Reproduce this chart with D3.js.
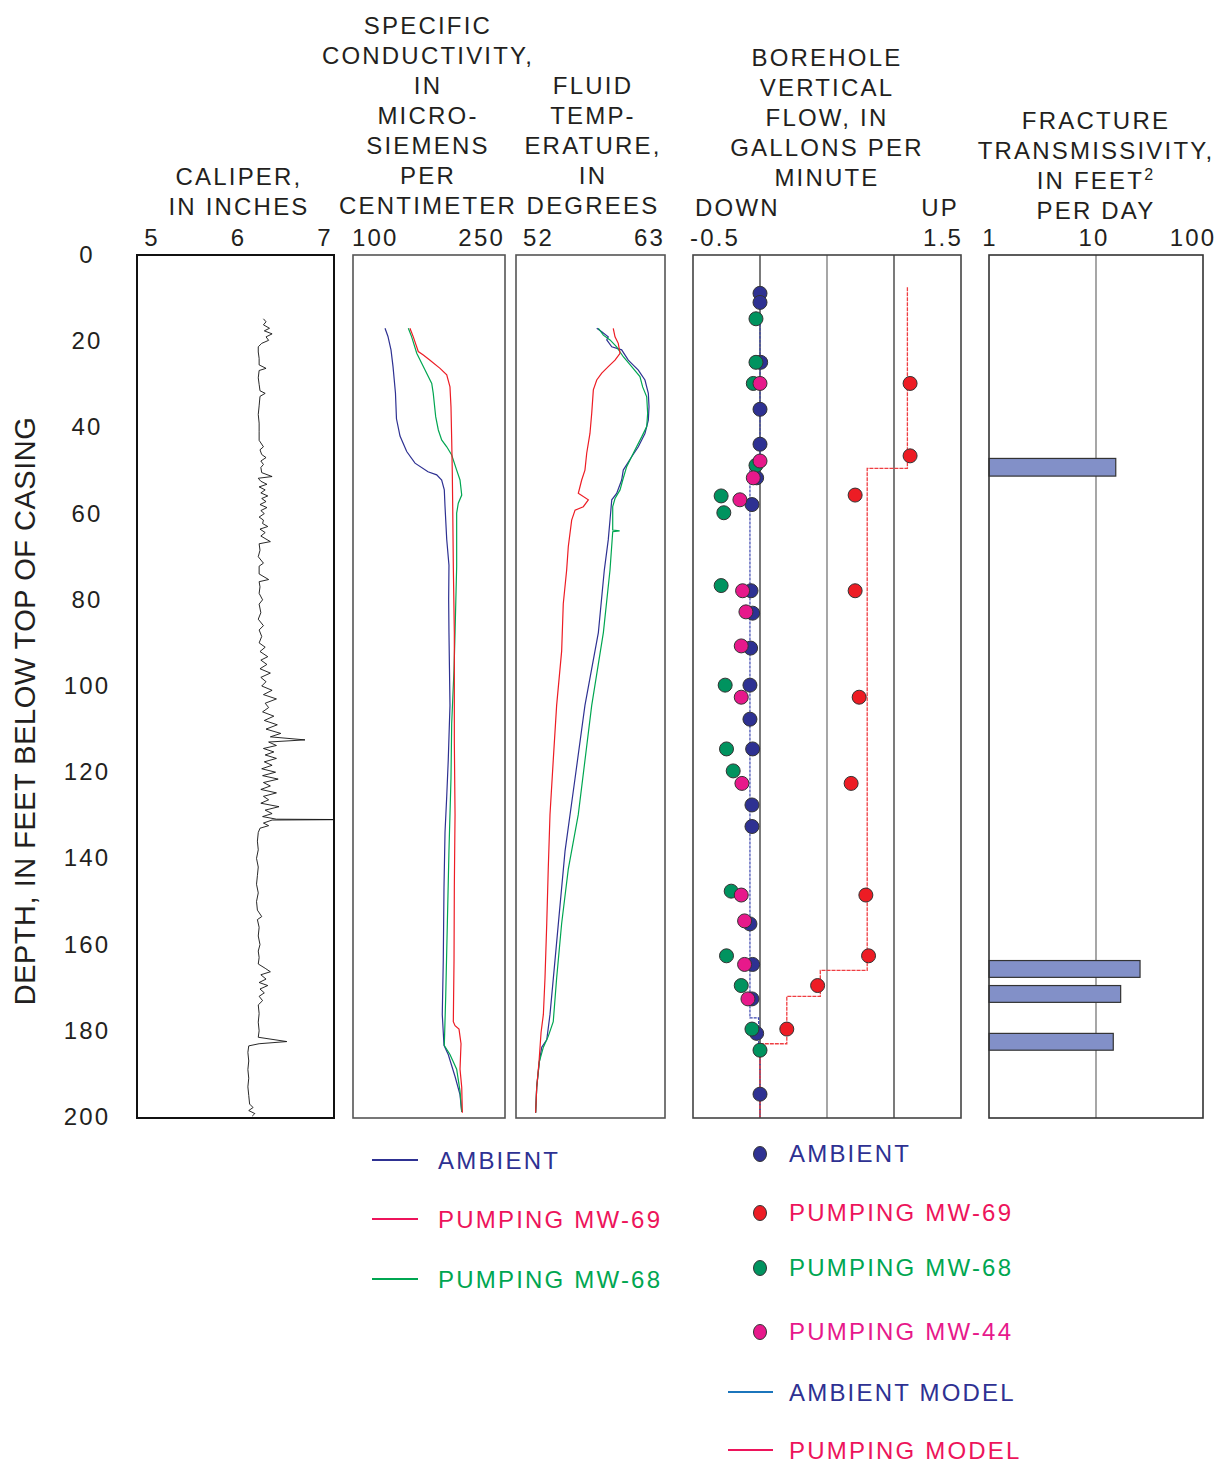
<!DOCTYPE html>
<html>
<head>
<meta charset="utf-8">
<script src="https://d3js.org/d3.v7.min.js"></script>
<style>
body { margin: 0; background: #fff; }
text { font-family: "Liberation Sans", Arial, sans-serif; fill: #231f20; font-size: 24px; letter-spacing: 2.2px; }
</style>
</head>
<body>
<div id="chart"></div>
<script>
// ---- data ----
var depthTicks = [0, 20, 40, 60, 80, 100, 120, 140, 160, 180, 200];
var caliperTicks = [5, 6, 7];
var condTicks = [100, 250];
var tempTicks = [52, 63];
var flowTicks = [-0.5, 1.5];
var transTicks = [1, 10, 100];

// caliper, [depth ft, inches]
var caliper = [[14.8,6.30],[15.5,6.33],[16.2,6.30],[17.0,6.37],[17.6,6.31],[18.3,6.40],[19.0,6.33],[19.8,6.36],[20.5,6.28],
  [21.3,6.24],[22.5,6.24],[24.0,6.25],[25.5,6.25],[26.3,6.33],[26.8,6.25],[28.5,6.24],[30.0,6.25],[31.5,6.26],[32.1,6.32],
  [32.8,6.26],[35.0,6.25],[37.0,6.24],[39.0,6.25],[41.0,6.25],[43.0,6.25],[44.5,6.30],[45.2,6.26],[46.3,6.28],[47.0,6.33],
  [47.8,6.27],[48.6,6.30],[49.3,6.27],[50.5,6.28],[51.4,6.40],[51.8,6.24],[52.5,6.27],[53.2,6.34],[53.8,6.25],[54.5,6.32],
  [55.2,6.27],[55.9,6.35],[56.5,6.28],[57.2,6.33],[57.9,6.26],[58.6,6.34],[59.3,6.27],[60.0,6.31],[60.8,6.25],[61.5,6.30],
  [62.3,6.29],[63.0,6.35],[63.6,6.26],[64.4,6.32],[65.2,6.27],[66.5,6.38],[67.0,6.25],[68.5,6.26],[70.0,6.24],[71.5,6.30],
  [72.2,6.25],[74.0,6.25],[75.3,6.36],[75.8,6.25],[77.0,6.26],[78.5,6.25],[80.0,6.29],[81.0,6.25],[83.0,6.27],[84.5,6.24],
  [86.0,6.30],[87.0,6.25],[88.5,6.28],[90.0,6.25],[91.0,6.32],[92.0,6.26],[93.2,6.35],[94.0,6.27],[95.0,6.34],[96.0,6.26],
  [97.0,6.38],[98.0,6.27],[99.0,6.33],[100.0,6.28],[101.0,6.40],[102.0,6.30],[103.0,6.45],[104.0,6.32],[105.0,6.36],
  [106.0,6.29],[107.0,6.42],[108.0,6.31],[109.0,6.46],[110.0,6.33],[111.0,6.50],[111.8,6.38],[112.5,6.78],[113.0,6.36],
  [113.8,6.45],[114.5,6.30],[115.3,6.42],[116.0,6.32],[116.8,6.45],[117.6,6.31],[118.4,6.40],[119.2,6.28],[120.0,6.44],
  [120.8,6.29],[121.6,6.47],[122.4,6.30],[123.2,6.38],[124.0,6.27],[124.8,6.45],[125.6,6.30],[126.4,6.36],[127.2,6.27],
  [128.0,6.48],[128.8,6.32],[129.6,6.40],[130.3,6.29],[130.9,6.45],[131.0,7.30],[131.1,6.40],[131.8,6.30],[132.4,6.36],
  [133.0,6.26],[134.0,6.24],[136.0,6.23],[138.0,6.24],[140.0,6.22],[142.0,6.24],[144.0,6.23],[146.0,6.22],[148.0,6.24],
  [150.0,6.22],[152.0,6.23],[153.5,6.28],[154.2,6.23],[156.0,6.25],[158.0,6.24],[160.0,6.26],[161.5,6.24],[163.0,6.25],
  [164.5,6.24],[165.5,6.32],[166.3,6.38],[167.0,6.27],[168.0,6.33],[168.8,6.25],[169.5,6.35],[170.3,6.26],[171.2,6.31],
  [172.0,6.25],[173.0,6.29],[174.0,6.24],[176.0,6.25],[178.0,6.24],[180.0,6.25],[181.5,6.24],[182.5,6.57],[183.0,6.25],
  [183.5,6.13],[185.0,6.12],[187.0,6.13],[189.0,6.12],[191.0,6.13],[193.0,6.12],[195.0,6.13],[197.0,6.14],[197.8,6.18],
  [198.5,6.13],[199.2,6.20],[199.8,6.17]];

// specific conductivity, [depth ft, microsiemens/cm]
var condAmbient = [[17.0,131.6],[18.9,134.5],[22.0,137.5],[25.9,139.5],[32.0,141.9],[38.0,142.9],[42.0,146.4],[45.6,153.0],
  [48.3,161.2],[50.3,174.0],[51.0,182.6],[52.2,187.5],[54.5,190.1],[58.3,190.8],[66.0,192.5],[72.0,194.7],[80.0,194.4],
  [87.6,194.7],[96.0,195.2],[104.5,195.7],[117.2,194.0],[125.6,192.5],[134.0,190.8],[146.7,189.8],[163.6,189.1],
  [176.2,188.1],[183.4,189.8],[185.5,194.0],[190.6,200.7],[194.8,205.6],[198.8,207.3]];
var condMW69 = [[17.0,156.2],[19.0,159.5],[22.4,164.4],[23.2,169.4],[24.4,176.0],[26.3,185.9],[27.8,192.5],[30.6,195.7],
  [35.2,196.7],[42.9,197.4],[50.7,198.0],[58.4,198.4],[72.3,199.0],[87.6,200.0],[112.9,200.0],[129.8,200.7],[146.7,200.0],
  [163.6,199.7],[177.9,199.0],[178.8,200.7],[179.6,204.6],[183.0,206.6],[188.9,205.6],[193.1,207.3],[199.0,207.9]];
var condMW68 = [[17.0,154.6],[19.0,157.9],[22.8,162.9],[26.7,171.1],[29.8,177.7],[32.1,179.2],[37.5,181.6],[40.6,184.2],
  [42.9,187.5],[44.5,192.5],[46.4,197.4],[49.9,202.3],[52.2,205.6],[55.7,207.3],[57.6,203.9],[59.9,202.3],[72.3,202.3],
  [87.6,200.7],[96.1,199.7],[108.7,197.4],[121.4,196.7],[138.3,194.7],[155.1,193.1],[172.0,191.5],[183.4,190.1],
  [185.5,195.7],[188.9,202.3],[194.0,205.6],[198.8,207.3]];

// fluid temperature, [depth ft, degrees]
var tempAmbient = [[17.0,57.96],[17.8,58.33],[19.0,58.81],[19.7,58.70],[21.3,59.07],[22.0,59.80],[24.4,60.29],[26.7,61.03],
  [29.0,61.52],[32.1,61.77],[35.2,61.82],[38.3,61.77],[41.4,61.52],[44.5,61.03],[46.8,60.54],[49.9,59.92],[52.2,59.80],
  [55.3,59.43],[56.8,59.07],[61.5,58.94],[66.1,58.81],[73.1,58.52],[87.6,58.08],[104.5,57.09],[121.4,56.36],[138.3,55.62],
  [150.9,55.25],[163.6,54.88],[176.2,54.51],[182.1,54.27],[183.8,53.90],[187.2,53.72],[193.0,53.53],[199.0,53.45]];
var tempMW69 = [[17.0,59.18],[19.0,59.31],[20.5,59.55],[22.8,59.68],[24.4,59.31],[25.9,58.81],[27.4,58.33],[29.0,57.96],
  [31.3,57.71],[36.7,57.59],[41.4,57.46],[46.0,57.22],[49.9,57.09],[52.2,56.85],[55.3,56.60],[56.8,57.34],[58.4,56.97],
  [59.2,56.36],[61.5,56.11],[67.7,55.86],[73.1,55.74],[80.9,55.49],[91.9,55.37],[104.5,55.00],[117.2,54.75],[129.8,54.51],
  [142.5,54.38],[155.1,54.27],[167.8,54.14],[176.2,54.02],[180.4,53.85],[187.2,53.70],[193.1,53.53],[199.0,53.45]];
var tempMW68 = [[17.0,58.08],[18.6,58.45],[19.7,58.94],[21.3,59.43],[23.6,59.92],[25.9,60.54],[28.2,61.15],[30.6,61.35],
  [32.9,61.65],[36.7,61.72],[39.8,61.65],[42.2,61.28],[45.2,60.79],[49.1,60.17],[52.2,59.88],[54.5,59.68],[56.5,59.31],
  [58.4,59.14],[63.8,59.14],[64.0,59.65],[64.2,59.14],[73.1,58.94],[87.6,58.45],[104.5,57.59],[129.8,56.60],[142.5,55.86],
  [155.1,55.37],[167.8,55.00],[177.9,54.75],[181.3,54.38],[183.8,54.02],[187.2,53.72],[193.0,53.53],[199.0,53.45]];

// borehole vertical flow, [depth ft, gallons per minute]
var flowAmbient = [[8.9,0],[11.0,0],[24.9,0.005],[35.8,0],[43.9,0],[51.7,-0.025],[57.9,-0.06],[77.9,-0.067],[83.1,-0.055],
  [91.2,-0.07],[99.8,-0.075],[107.7,-0.075],[114.6,-0.055],[127.6,-0.06],[132.6,-0.06],[155.2,-0.075],[164.6,-0.055],
  [172.6,-0.06],[180.6,-0.025],[194.7,0]];
var flowMW68 = [[14.8,-0.03],[24.9,-0.03],[29.8,-0.05],[48.8,-0.03],[55.9,-0.29],[59.8,-0.27],[76.7,-0.29],[99.8,-0.26],
  [114.6,-0.25],[119.7,-0.20],[147.6,-0.215],[162.6,-0.25],[169.5,-0.14],[179.6,-0.06],[184.5,0]];
var flowMW44 = [[29.8,0],[47.8,0],[51.7,-0.05],[56.8,-0.15],[77.9,-0.13],[82.8,-0.105],[90.7,-0.14],[102.6,-0.14],
  [122.6,-0.135],[148.5,-0.14],[154.5,-0.115],[164.6,-0.115],[172.6,-0.09]];
var flowMW69 = [[29.8,1.12],[46.6,1.12],[55.7,0.71],[77.9,0.71],[102.6,0.74],[122.6,0.68],[148.5,0.79],[162.6,0.81],
  [169.5,0.43],[179.6,0.20]];

// flow models: interval depths and flow within each interval
var ambientModelDepths = [15, 49.5, 177, 183, 200];
var ambientModelFlows = [0, -0.075, -0.01, 0];
var pumpingModelDepths = [7.5, 49.5, 166, 172, 183, 200];
var pumpingModelFlows = [1.10, 0.80, 0.45, 0.20, 0];

// fracture transmissivity
var fractureTop = [47.2, 163.7, 169.5, 180.6];
var fractureBottom = [51.3, 167.6, 173.4, 184.5];
var fractureT = [15.3, 25.8, 17.0, 14.5];

// ---- colours ----
var navy = "#2e3192", red = "#ed1c24", green = "#00a651", crimson = "#ed145b",
    magenta = "#e7198b", dotGreen = "#00935f", modelBlue = "#1b75bc";

var width = 1217, height = 1465;
var svg = d3.select("#chart").append("svg")
    .attr("width", width)
    .attr("height", height);

var y = d3.scaleLinear().domain([0, 200]).range([255, 1117]);
var xCal = d3.scaleLinear().domain([5, 7]).range([151, 324]);
var xCond = d3.scaleLinear().domain([100, 250]).range([353, 505]);
var xTemp = d3.scaleLinear().domain([52, 63]).range([516, 665]);
var xFlow = d3.scaleLinear().domain([-0.5, 1.5]).range([693, 961]);
var xTrans = d3.scaleLog().domain([1, 100]).range([989, 1203]);

var boxTop = 255, boxBottom = 1118;

// ---- titles ----
var titles = [
  {x: 239, y: 176, lines: ["CALIPER,", "IN INCHES"]},
  {x: 428, y: 25, lines: ["SPECIFIC", "CONDUCTIVITY,", "IN", "MICRO-", "SIEMENS", "PER", "CENTIMETER"]},
  {x: 593, y: 85, lines: ["FLUID", "TEMP-", "ERATURE,", "IN", "DEGREES"]},
  {x: 827, y: 57, lines: ["BOREHOLE", "VERTICAL", "FLOW, IN", "GALLONS PER", "MINUTE"]},
  {x: 1096, y: 120, lines: ["FRACTURE", "TRANSMISSIVITY,", "IN FEET^2", "PER DAY"]}
];
titles.forEach(function(t) {
  t.lines.forEach(function(line, i) {
    var txt = svg.append("text")
        .attr("x", t.x)
        .attr("y", t.y + i * 30 + 9)
        .attr("text-anchor", "middle");
    var parts = line.split("^");
    txt.append("tspan").text(parts[0]);
    if (parts[1]) {
      txt.append("tspan").attr("dy", -9).style("font-size", "16px").text(parts[1]);
    }
  });
});

svg.append("text").attr("x", 695).attr("y", 216).text("DOWN");
svg.append("text").attr("x", 959).attr("y", 216).attr("text-anchor", "end").text("UP");

// ---- top tick labels ----
var tickY = 246;
function tickLabels(scale, values, anchors, offsets) {
  svg.append("g").selectAll("text")
    .data(values)
    .enter().append("text")
    .attr("x", function(d, i) { return scale(d) + offsets[i]; })
    .attr("y", tickY)
    .attr("text-anchor", function(d, i) { return anchors[i]; })
    .text(function(d) { return d; });
}
tickLabels(xCal, caliperTicks, ["middle", "middle", "middle"], [1, 1, 1]);
tickLabels(xCond, condTicks, ["start", "end"], [-1, 0]);
tickLabels(xTemp, tempTicks, ["start", "end"], [7, 0]);
tickLabels(xFlow, flowTicks, ["start", "end"], [-3, 2]);
tickLabels(xTrans, transTicks, ["middle", "middle", "middle"], [1, -2, -10]);

// ---- depth axis ----
svg.append("g").selectAll("text")
  .data(depthTicks)
  .enter().append("text")
  .attr("x", 87)
  .attr("y", function(d) { return y(d) + 8; })
  .attr("text-anchor", "middle")
  .text(function(d) { return d; });

svg.append("text")
  .attr("transform", "translate(35,711) rotate(-90)")
  .attr("text-anchor", "middle")
  .style("font-size", "29px")
  .style("letter-spacing", "0.5px")
  .text("DEPTH, IN FEET BELOW TOP OF CASING");

// ---- panel boxes ----
var panels = [
  {x0: 137, x1: 334, stroke: "#111", w: 2},
  {x0: xCond.range()[0], x1: xCond.range()[1], stroke: "#555", w: 1.6},
  {x0: xTemp.range()[0], x1: xTemp.range()[1], stroke: "#555", w: 1.6},
  {x0: xFlow.range()[0], x1: xFlow.range()[1], stroke: "#444", w: 1.6},
  {x0: xTrans.range()[0], x1: xTrans.range()[1], stroke: "#333", w: 1.6}
];

// grid lines
[0.5, 1.0].forEach(function(v, i) {
  svg.append("line")
    .attr("x1", xFlow(v)).attr("x2", xFlow(v))
    .attr("y1", boxTop).attr("y2", boxBottom)
    .attr("stroke", i === 0 ? "#777" : "#333").attr("stroke-width", 1.3);
});
svg.append("line")
  .attr("x1", xFlow(0)).attr("x2", xFlow(0))
  .attr("y1", boxTop).attr("y2", boxBottom)
  .attr("stroke", "#222").attr("stroke-width", 1.2);
svg.append("line")
  .attr("x1", xTrans(10)).attr("x2", xTrans(10))
  .attr("y1", boxTop).attr("y2", boxBottom)
  .attr("stroke", "#777").attr("stroke-width", 1.3);

// ---- caliper ----
svg.append("clipPath").attr("id", "calclip")
  .append("rect").attr("x", 137).attr("y", boxTop).attr("width", 197).attr("height", boxBottom - boxTop);

var calLine = d3.line()
  .x(function(d) { return xCal(d[1]); })
  .y(function(d) { return y(d[0]); });
svg.append("path")
  .attr("clip-path", "url(#calclip)")
  .attr("d", calLine(caliper))
  .attr("fill", "none")
  .attr("stroke", "#111")
  .attr("stroke-width", 0.9);

// ---- conductivity and temperature ----
function profile(scale, data, color) {
  var line = d3.line()
    .x(function(d) { return scale(d[1]); })
    .y(function(d) { return y(d[0]); });
  svg.append("path")
    .attr("d", line(data))
    .attr("fill", "none")
    .attr("stroke", color)
    .attr("stroke-width", 1.2);
}
profile(xCond, condAmbient, navy);
profile(xCond, condMW68, green);
profile(xCond, condMW69, red);
profile(xTemp, tempAmbient, navy);
profile(xTemp, tempMW68, green);
profile(xTemp, tempMW69, red);

// ---- flow models ----
function steps(depths, flows) {
  var pts = [];
  flows.forEach(function(q, i) {
    pts.push([depths[i], q]);
    pts.push([depths[i + 1], q]);
  });
  return pts;
}
var flowLine = d3.line()
  .x(function(d) { return xFlow(d[1]); })
  .y(function(d) { return y(d[0]); });
svg.append("path")
  .attr("d", flowLine(steps(ambientModelDepths, ambientModelFlows)))
  .attr("fill", "none")
  .attr("stroke", "#3a45b0")
  .attr("stroke-width", 1.2)
  .attr("stroke-dasharray", "3,1");
svg.append("path")
  .attr("d", flowLine(steps(pumpingModelDepths, pumpingModelFlows)))
  .attr("fill", "none")
  .attr("stroke", "#ef3e42")
  .attr("stroke-width", 1.3)
  .attr("stroke-dasharray", "4,1");

// ---- flow measurements ----
function dots(data, color) {
  svg.append("g").selectAll("circle")
    .data(data)
    .enter().append("circle")
    .attr("cx", function(d) { return xFlow(d[1]); })
    .attr("cy", function(d) { return y(d[0]); })
    .attr("r", 7)
    .attr("fill", color)
    .attr("stroke", "#333")
    .attr("stroke-width", 1);
}
dots(flowAmbient, navy);
dots(flowMW68, dotGreen);
dots(flowMW44, magenta);
dots(flowMW69, red);

// ---- fracture transmissivity ----
svg.append("g").selectAll("rect")
  .data(fractureT)
  .enter().append("rect")
  .attr("x", xTrans(1))
  .attr("y", function(d, i) { return y(fractureTop[i]); })
  .attr("width", function(d) { return xTrans(d) - xTrans(1); })
  .attr("height", function(d, i) { return y(fractureBottom[i]) - y(fractureTop[i]); })
  .attr("fill", "#8290c8")
  .attr("stroke", "#333")
  .attr("stroke-width", 1.2);

panels.forEach(function(p) {
  svg.append("rect")
    .attr("x", p.x0).attr("y", boxTop)
    .attr("width", p.x1 - p.x0).attr("height", boxBottom - boxTop)
    .attr("fill", "none")
    .attr("stroke", p.stroke)
    .attr("stroke-width", p.w);
});

// ---- legends ----
var lineLegend = [
  {label: "AMBIENT", color: navy, y: 1160},
  {label: "PUMPING MW-69", color: crimson, y: 1219},
  {label: "PUMPING MW-68", color: green, y: 1279}
];
lineLegend.forEach(function(d) {
  svg.append("line").attr("x1", 372).attr("x2", 418).attr("y1", d.y).attr("y2", d.y)
    .attr("stroke", d.color).attr("stroke-width", 2);
  svg.append("text").attr("x", 438).attr("y", d.y + 9).style("fill", d.color).text(d.label);
});

var dotLegend = [
  {label: "AMBIENT", color: navy, text: navy, y: 1154},
  {label: "PUMPING MW-69", color: red, text: crimson, y: 1213},
  {label: "PUMPING MW-68", color: dotGreen, text: green, y: 1268},
  {label: "PUMPING MW-44", color: magenta, text: magenta, y: 1332}
];
dotLegend.forEach(function(d) {
  svg.append("ellipse").attr("cx", 760).attr("cy", d.y).attr("rx", 6.5).attr("ry", 7.5)
    .attr("fill", d.color).attr("stroke", "#333").attr("stroke-width", 1);
  svg.append("text").attr("x", 789).attr("y", d.y + 8).style("fill", d.text).text(d.label);
});

var modelLegend = [
  {label: "AMBIENT MODEL", color: modelBlue, text: navy, y: 1392},
  {label: "PUMPING MODEL", color: crimson, text: crimson, y: 1450}
];
modelLegend.forEach(function(d) {
  svg.append("line").attr("x1", 728).attr("x2", 773).attr("y1", d.y).attr("y2", d.y)
    .attr("stroke", d.color).attr("stroke-width", 2);
  svg.append("text").attr("x", 789).attr("y", d.y + 9).style("fill", d.text).text(d.label);
});
</script>
</body>
</html>
